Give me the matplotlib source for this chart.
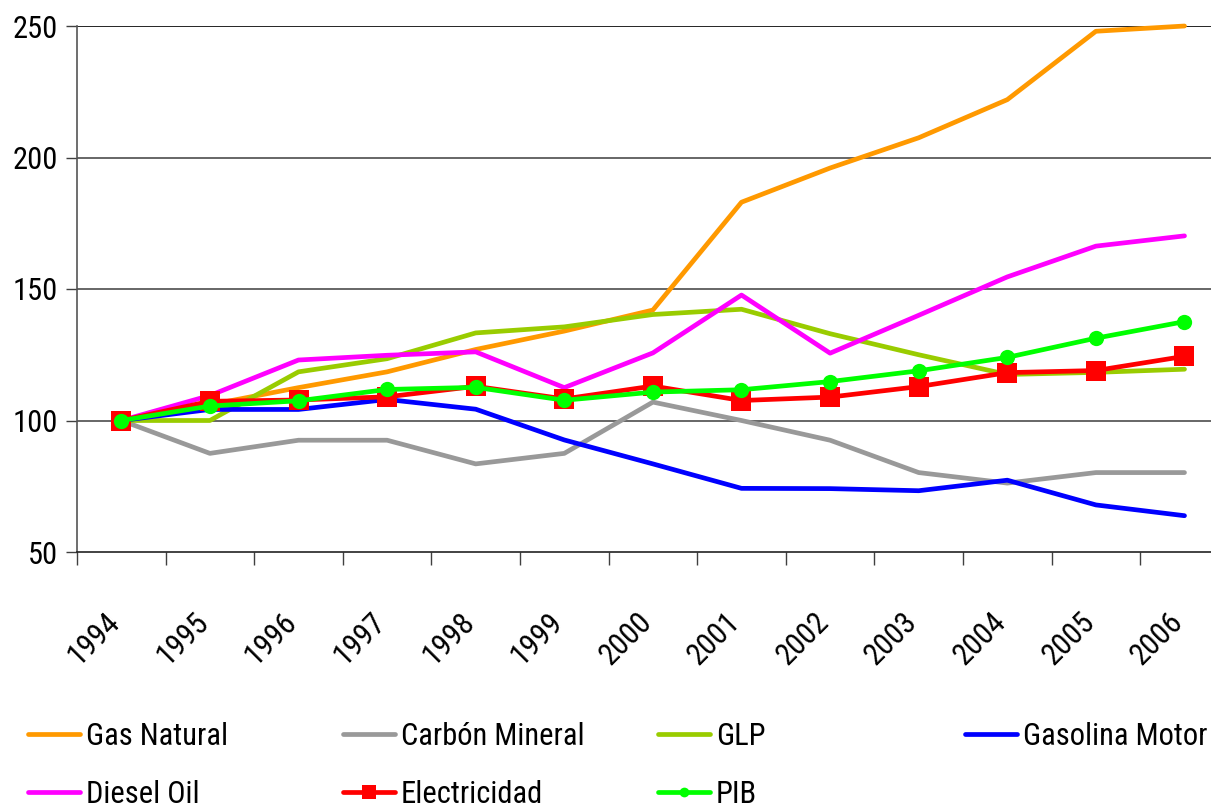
import matplotlib as mpl
mpl.use('Agg')
import matplotlib.pyplot as plt
import matplotlib.transforms as mtransforms
from matplotlib import font_manager
from matplotlib.lines import Line2D
import numpy as np

# datos (índice 1994 = 100)
anios = ['1994', '1995', '1996', '1997', '1998', '1999', '2000',
         '2001', '2002', '2003', '2004', '2005', '2006']
gas_natural = [100, 106, 112.5, 118.5, 127, 134, 142, 183, 196, 207.5, 222, 248, 250]
carbon_mineral = [100, 87.5, 92.5, 92.5, 83.5, 87.5, 107, 100, 92.5, 80.2, 76.2, 80.2, 80.2]
glp = [100, 100, 118.5, 123.5, 133.3, 135.6, 140.3, 142.3, 133, 125, 117.5, 118.3, 119.5]
gasolina_motor = [100, 104.2, 104.2, 108, 104.3, 92.6, 83.5, 74.2, 74.1, 73.3, 77.3, 67.9, 63.8]
diesel_oil = [100, 109.5, 123, 124.8, 126.1, 112.5, 125.7, 147.7, 125.6, 140, 154.6, 166.3, 170.2]
electricidad = [100, 107.3, 107.8, 109, 113, 108.2, 113.1, 107.6, 108.9, 112.9, 118.2, 119, 124.4]
pib = [100, 105.5, 107.5, 111.8, 112.6, 107.7, 110.8, 111.7, 114.8, 118.9, 124, 131.3, 137.6]

series = [
    ('Gas Natural', gas_natural, '#FF9900', None),
    ('Carbón Mineral', carbon_mineral, '#999999', None),
    ('GLP', glp, '#99CC00', None),
    ('Gasolina Motor', gasolina_motor, '#0000FF', None),
    ('Diesel Oil', diesel_oil, '#FF00FF', None),
    ('Electricidad', electricidad, '#FF0000', 's'),
    ('PIB', pib, '#00FF00', 'o'),
]

# fuente: estrecha si está disponible
nombres = {f.name for f in font_manager.fontManager.ttflist}
if 'Liberation Sans Narrow' in nombres:
    mpl.rc('font', family='Liberation Sans Narrow')
    tam = 22
elif 'Arial Narrow' in nombres:
    mpl.rc('font', family='Arial Narrow')
    tam = 22
elif 'Roboto Condensed' in nombres:
    mpl.rc('font', family='Roboto Condensed')
    tam = 22
else:
    mpl.rc('font', family='Liberation Sans')
    tam = 20

fig = plt.figure(figsize=(12.11, 8.11), dpi=100)
W, H = 1211.0, 811.0
ax = fig.add_axes([77 / W, 1 - 552 / H, 13 * 88.6 / W, 526 / H])

x = np.arange(len(anios))
for nombre, valores, color, marcador in series:
    ms = 14 if marcador == 's' else 11
    ax.plot(x, valores, color=color, lw=3.4, marker=marcador, ms=ms,
            markeredgewidth=0, clip_on=False, solid_capstyle='round',
            solid_joinstyle='round')

ax.set_xlim(-0.5, len(anios) - 0.5)
ax.set_ylim(50, 250)
ax.set_yticks([50, 100, 150, 200, 250])
for v in [100, 150, 200]:
    ax.axhline(v, color='#4D4D4D', lw=1.2, zorder=0)
ax.axhline(250, color='black', lw=1.2, zorder=0)

# ticks en los bordes de categoría, etiquetas en el centro
ax.set_xticks(np.arange(-0.5, len(anios), 1.0))
ax.set_xticklabels([])
ax.set_xticks(x, minor=True)
ax.set_xticklabels(anios, minor=True, rotation=45, ha='right', va='center',
                   rotation_mode='anchor', fontsize=tam)
ax.tick_params(axis='x', which='major', length=9, width=1, color='#404040',
               direction='out')
ax.tick_params(axis='x', which='minor', length=0, pad=47)
ax.tick_params(axis='y', length=8, width=1, color='#404040', pad=6,
               labelsize=tam)
offset = mtransforms.ScaledTranslation(-6 / 100, 0, fig.dpi_scale_trans)
for lab in ax.get_xticklabels(minor=True):
    lab.set_transform(lab.get_transform() + offset)

for s in ['top', 'right']:
    ax.spines[s].set_visible(False)
ax.spines['left'].set_color('#555555')
ax.spines['left'].set_linewidth(1.2)
ax.spines['bottom'].set_color('#222222')
ax.spines['bottom'].set_linewidth(1.2)

# leyenda en columnas de ancho fijo
handles = []
for nombre, valores, color, marcador in series:
    ms = 10 if marcador == 's' else 7
    handles.append(Line2D([], [], color=color, lw=3.4, marker=marcador, ms=ms,
                          markeredgewidth=0, solid_capstyle='round'))
etiquetas = [s[0] for s in series]
columnas = [[0, 4], [1, 5], [2, 6], [3]]
xs = [28, 343, 658, 965]
for col, xc in zip(columnas, xs):
    fig.legend([handles[i] for i in col], [etiquetas[i] for i in col],
               loc='upper left', bbox_to_anchor=(xc / W, 1 - 722 / H),
               frameon=False, fontsize=tam, handlelength=1.7,
               handletextpad=0.2, labelspacing=0.95, borderpad=0,
               borderaxespad=0)

plt.savefig('out.png', dpi=100)
plt.close(fig)
